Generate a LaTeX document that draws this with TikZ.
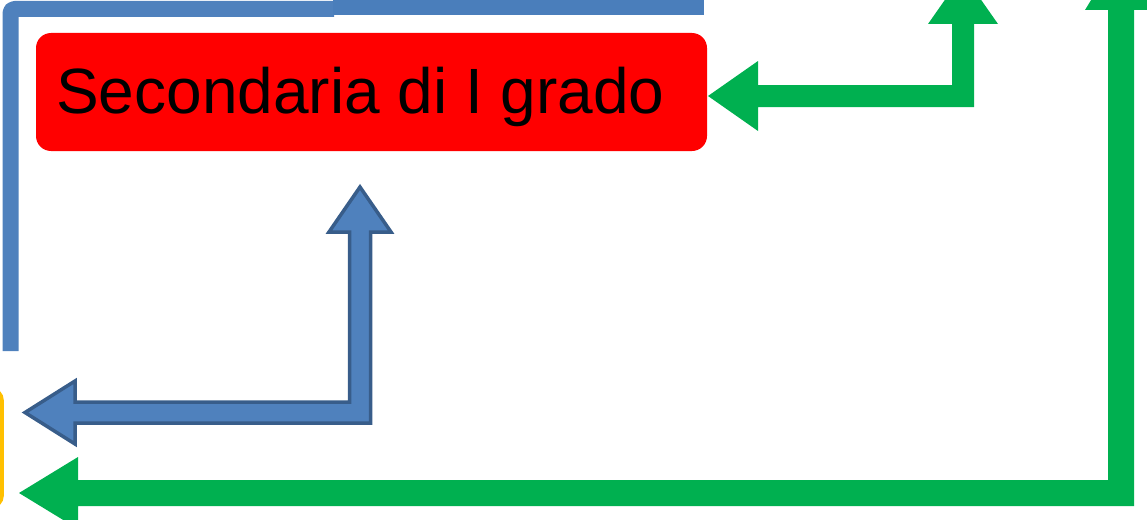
\documentclass[tikz,border=0pt]{standalone}
\usepackage{fontspec}
\setmainfont{Liberation Sans}
\definecolor{blueA}{HTML}{4F81BD}
\definecolor{blueB}{HTML}{4A7EBB}
\definecolor{blueEdge}{HTML}{385D8A}
\definecolor{greenA}{HTML}{00B050}
\definecolor{redA}{HTML}{FF0000}
\definecolor{yellowA}{HTML}{FFC000}
\tikzset{
  bluebar/.style={line width=16pt, line cap=butt, line join=round},
  greenarrow/.style={fill=greenA, draw=none},
  bluearrow/.style={fill=blueA, draw=blueEdge, line width=3.5pt, line join=miter},
  boxstyle/.style={rounded corners=15pt, inner sep=0pt, draw=none}
}
\begin{document}
\begin{tikzpicture}[x=1pt, y=-1pt]
\useasboundingbox (0,0) rectangle (1147,519);
\clip (0,0) rectangle (1147,519);
% blue frame line
\coordinate (b1) at (10.5,351);
\coordinate (b2) at (10.5,9);
\coordinate (b3) at (334,9);
\coordinate (b4) at (333,7.5);
\coordinate (b5) at (704,7.5);
\draw[bluebar, draw=blueA, rounded corners=4pt] (b1) -- (b2) -- (b3);
\draw[bluebar, draw=blueB] (b4) -- (b5);
% red box
\node[boxstyle, fill=redA, minimum width=671pt, minimum height=118pt] (secbox) at (371.5,92) {};
\node[anchor=base west, inner sep=0pt, font=\fontsize{64}{64}\selectfont] (sectext) at (56,113) {Secondaria di I grado};
% yellow box (mostly off the page)
\node[boxstyle, rounded corners=12pt, fill=yellowA, minimum width=200pt, minimum height=120pt, anchor=east] (ybox) at (4,448) {};
% green arrow, top
\fill[greenarrow] (708,96) -- (758,61) -- (758,85) -- (952,85) -- (952,24) -- (928,24) -- (963,-26) -- (998,24) -- (974,24) -- (974,107) -- (758,107) -- (758,131) -- cycle;
% green arrow, big
\fill[greenarrow] (19,493) -- (78,457) -- (78,480) -- (1108,480) -- (1108,10) -- (1085,10) -- (1121,-49) -- (1157,10) -- (1134,10) -- (1134,506) -- (78,506) -- (78,529) -- cycle;
% blue outlined arrow
\filldraw[bluearrow] (25,412.5) -- (75,381) -- (75,402) -- (349.5,402) -- (349.5,232) -- (329,232) -- (360,187) -- (391,232) -- (370.5,232) -- (370.5,423) -- (75,423) -- (75,444) -- cycle;
\end{tikzpicture}
\end{document}
